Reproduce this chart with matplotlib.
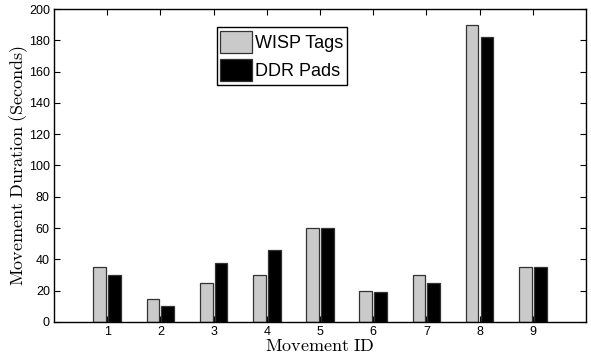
import matplotlib
matplotlib.use("Agg")
import matplotlib.pyplot as plt
import numpy as np

movement_ids = [1, 2, 3, 4, 5, 6, 7, 8, 9]
wisp_tags = [35, 15, 25, 30, 60, 20, 30, 190, 35]
ddr_pads = [30, 10, 38, 46, 60, 19, 25, 182, 35]
y_ticks = list(range(0, 201, 20))

plt.rcParams["mathtext.fontset"] = "cm"
TICK_FONT = ["Liberation Sans Narrow", "Liberation Sans", "DejaVu Sans"]

fig = plt.figure(figsize=(5.91, 3.60), dpi=100)
ax = fig.add_axes([0.0914, 0.1056, 0.9, 0.8694])

x = np.array(movement_ids, dtype=float)
width = 0.24
ax.bar(x - 0.14, wisp_tags, width, color="#cacaca", edgecolor="#333333",
       linewidth=0.9, label="WISP Tags")
ax.bar(x + 0.14, ddr_pads, width, color="black", edgecolor="#333333",
       linewidth=0.9, label="DDR Pads")

ax.set_xlim(0, 10)
ax.set_ylim(0, 200)
ax.set_xticks(movement_ids)
ax.set_yticks(y_ticks)
ax.tick_params(direction="in", top=True, right=True, length=4, width=0.8, pad=3)
for lab in ax.get_xticklabels() + ax.get_yticklabels():
    lab.set_family(TICK_FONT)
    lab.set_fontsize(9)
for sp in ax.spines.values():
    sp.set_linewidth(1.0)

ax.set_xlabel(r"$\mathrm{Movement\ ID}$", fontsize=13, labelpad=-1)
ax.set_ylabel(r"$\mathrm{Movement\ Duration\ (Seconds)}$", fontsize=13, labelpad=-1)

leg = ax.legend(loc="upper left", bbox_to_anchor=(0.306, 0.942), borderaxespad=0,
                fancybox=False, framealpha=1, edgecolor="black", borderpad=0.2,
                handlelength=1.75, handleheight=1.5, handletextpad=0.15,
                labelspacing=0.35, prop={"family": TICK_FONT, "size": 13})
leg.get_frame().set_linewidth(1.0)

fig.savefig("out.png", dpi=100)
